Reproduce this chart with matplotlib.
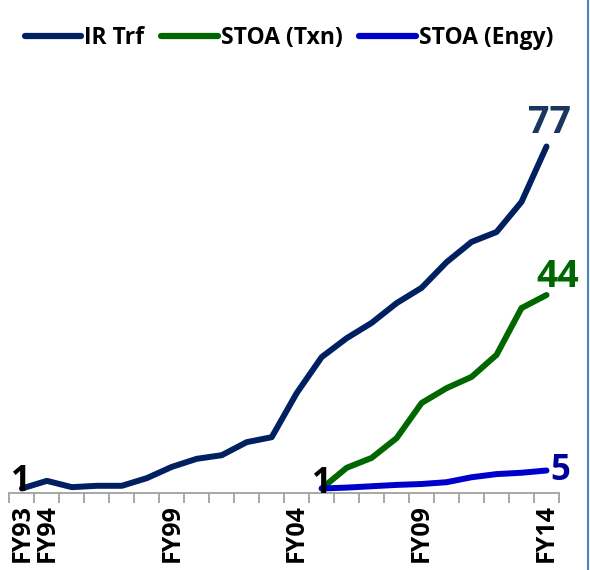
import numpy as np
import matplotlib
matplotlib.use('Agg')
import matplotlib.pyplot as plt
from matplotlib.lines import Line2D

plt.rcParams['font.family'] = ['Open Sans', 'DejaVu Sans']
plt.rcParams['font.weight'] = 'bold'

# data (index, FY93 = 1)
years = ['FY93', 'FY94', 'FY95', 'FY96', 'FY97', 'FY98', 'FY99', 'FY00', 'FY01',
         'FY02', 'FY03', 'FY04', 'FY05', 'FY06', 'FY07', 'FY08', 'FY09', 'FY10',
         'FY11', 'FY12', 'FY13', 'FY14']
ir_trf = [1, 2.7, 1.3, 1.6, 1.6, 3.3, 5.8, 7.6, 8.4, 11.3, 12.4, 22.2, 30.2,
          34.4, 37.8, 42.2, 45.6, 51.3, 55.8, 58.0, 64.7, 77]
stoa_txn = [np.nan] * 12 + [1, 5.6, 7.8, 12.2, 20.0, 23.3, 25.8, 30.7, 41.1, 44]
stoa_engy = [np.nan] * 12 + [1, 1.2, 1.5, 1.8, 2.0, 2.4, 3.5, 4.2, 4.5, 5]
shown_labels = ['FY93', 'FY94', 'FY99', 'FY04', 'FY09', 'FY14']

c_ir = '#002060'
c_txn = '#006600'
c_engy = '#0000CC'

fig = plt.figure(figsize=(5.9, 5.7), dpi=100)
ax = fig.add_axes([9.4 / 590, 77 / 570, 549.6 / 590, 405 / 570])

x = np.arange(len(years))
lw = 4.3
for vals, col in [(ir_trf, c_ir), (stoa_txn, c_txn), (stoa_engy, c_engy)]:
    ax.plot(x, vals, color=col, lw=lw, solid_capstyle='round', solid_joinstyle='round')

ax.set_xlim(-0.5, len(years) - 0.5)
ax.set_ylim(0, 90)

for s in ['left', 'right', 'top']:
    ax.spines[s].set_visible(False)
ax.spines['bottom'].set_color('#A0A0A0')
ax.spines['bottom'].set_linewidth(1.3)
ax.set_yticks([])

# tick marks between categories, labels on selected categories
ax.set_xticks(np.arange(len(years) + 1) - 0.5)
ax.set_xticklabels([])
ax.tick_params(axis='x', which='major', length=7, width=1.3, color='#A0A0A0')
ax.set_xticks([years.index(l) for l in shown_labels], minor=True)
ax.set_xticklabels(shown_labels, minor=True, rotation=90, fontsize=18,
                   fontweight='bold', va='top')
ax.tick_params(axis='x', which='minor', length=0, pad=8)

# end labels
def lab(i, v, t, col, dx, dy, ha, va, fs):
    ax.annotate(t, (i, v), xytext=(dx, dy), textcoords='offset points',
                ha=ha, va=va, color=col, fontsize=fs, fontweight='bold')

lab(0, ir_trf[0], '1', 'black', -1, -2, 'center', 'baseline', 25)
lab(12, stoa_txn[12], '1', 'black', 0, -3, 'center', 'baseline', 25)
lab(21, ir_trf[-1], '77', '#17375E', 2, 3, 'center', 'bottom', 27)
lab(21, stoa_txn[-1], '44', c_txn, 8, -1, 'center', 'bottom', 27)
lab(21, stoa_engy[-1], '5', '#000099', 3, 0, 'left', 'center', 25)

handles = [Line2D([], [], color=c, lw=4.5, solid_capstyle='round') for c in (c_ir, c_txn, c_engy)]
fig.legend(handles, ['IR Trf', 'STOA (Txn)', 'STOA (Engy)'], loc='center',
           bbox_to_anchor=(289 / 590, 1 - 38 / 570), ncol=3, frameon=False,
           handlelength=2.45, handletextpad=0.13, columnspacing=0.75,
           prop={'size': 16.5, 'weight': 'bold'})

fig.add_artist(Line2D([587.5 / 590, 587.5 / 590], [0, 1], transform=fig.transFigure,
                      color='#4F81BD', lw=1.5))

fig.savefig('out.png', dpi=100)
